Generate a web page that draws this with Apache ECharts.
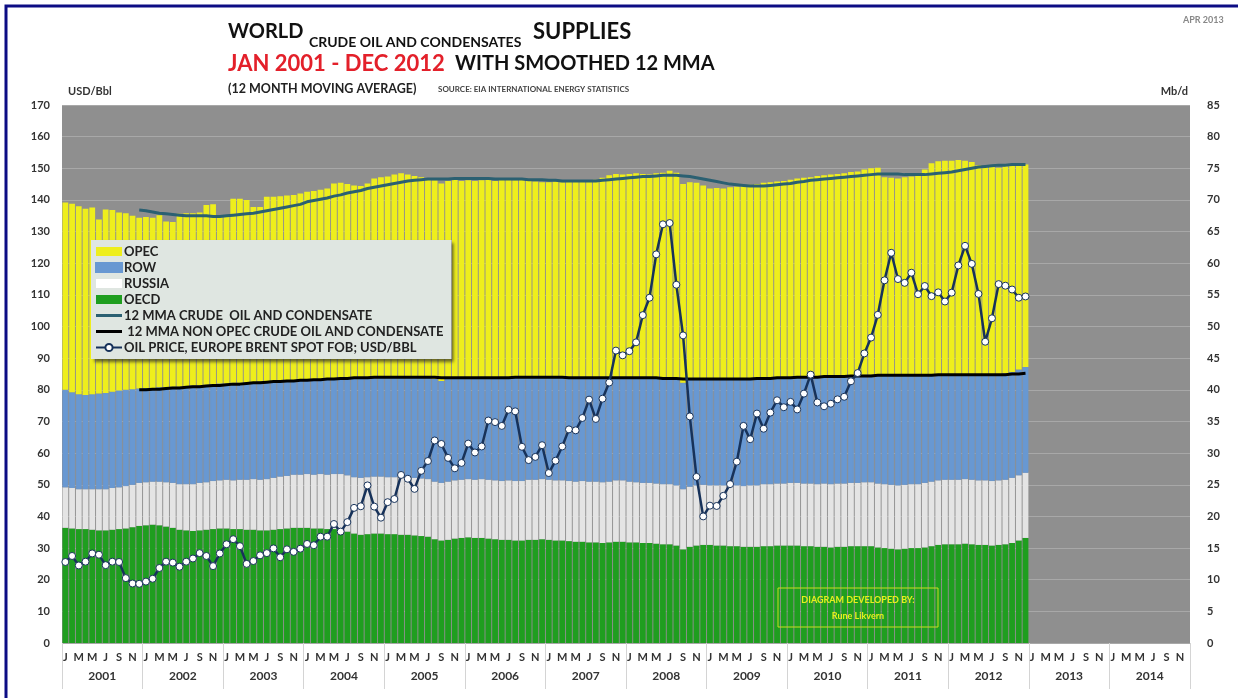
<!DOCTYPE html>
<html>
<head>
<meta charset="utf-8">
<script src="https://cdn.jsdelivr.net/npm/echarts@6/dist/echarts.min.js"></script>
<style>
  html, body { margin: 0; padding: 0; background: #fff; }
  #main { width: 1238px; height: 698px; }
</style>
</head>
<body>
<div id="main"></div>
<script>
// x axis: Jan 2001 - Dec 2014, data only to Dec 2012
var years = ['2001','2002','2003','2004','2005','2006','2007','2008','2009','2010','2011','2012','2013','2014'];
var monthLetters = ['J','F','M','A','M','J','J','A','S','O','N','D'];

// Mb/d, monthly, Jan 2001 - Dec 2012
var oecd = [
  18.2,18.1,18.0,18.0,17.9,17.8,17.8,17.9,18.0,18.1,18.3,18.5,
  18.6,18.7,18.6,18.4,18.2,17.9,17.8,17.7,17.8,17.9,18.0,18.1,
  18.1,18.0,18.0,17.9,17.9,17.8,17.8,17.9,18.0,18.1,18.2,18.2,
  18.2,18.1,18.1,18.0,18.0,17.9,17.6,17.3,17.1,17.2,17.3,17.3,
  17.2,17.2,17.1,17.1,17.0,16.9,16.8,16.4,16.2,16.3,16.5,16.6,
  16.7,16.6,16.6,16.5,16.4,16.3,16.3,16.2,16.2,16.3,16.3,16.4,
  16.3,16.2,16.2,16.1,16.0,16.0,15.9,15.9,15.8,15.9,16.0,16.0,
  15.9,15.9,15.8,15.8,15.7,15.6,15.6,15.4,14.8,15.2,15.4,15.5,
  15.5,15.4,15.4,15.3,15.3,15.2,15.2,15.2,15.3,15.3,15.4,15.4,
  15.4,15.4,15.3,15.3,15.2,15.2,15.1,15.2,15.2,15.3,15.3,15.3,
  15.3,15.1,15.0,14.9,14.8,14.9,15.0,15.0,15.1,15.3,15.5,15.6,
  15.6,15.6,15.7,15.6,15.5,15.5,15.4,15.5,15.6,15.8,16.2,16.6
];
var russia = [
  6.4,6.4,6.3,6.3,6.4,6.5,6.5,6.6,6.6,6.7,6.7,6.8,
  6.8,6.8,6.9,7.0,7.1,7.2,7.3,7.4,7.5,7.5,7.6,7.6,
  7.7,7.7,7.8,7.9,8.0,8.0,8.1,8.2,8.3,8.3,8.4,8.4,
  8.5,8.5,8.6,8.6,8.7,8.8,8.9,8.9,9.0,9.0,9.0,9.0,
  9.0,9.0,9.0,9.0,9.1,9.1,9.1,9.1,9.1,9.2,9.2,9.2,
  9.2,9.2,9.3,9.3,9.3,9.3,9.4,9.4,9.4,9.5,9.5,9.5,
  9.5,9.5,9.5,9.5,9.5,9.6,9.6,9.6,9.6,9.6,9.7,9.7,
  9.6,9.5,9.5,9.5,9.5,9.5,9.5,9.5,9.5,9.5,9.5,9.5,
  9.4,9.5,9.5,9.6,9.6,9.6,9.7,9.7,9.8,9.8,9.8,9.8,
  9.9,9.9,9.9,9.9,9.9,10.0,10.0,10.0,10.0,10.0,10.0,10.1,
  10.1,10.1,10.1,10.1,10.1,10.1,10.1,10.1,10.2,10.2,10.2,10.2,
  10.2,10.2,10.2,10.2,10.2,10.2,10.2,10.2,10.2,10.3,10.3,10.3
];
var row = [
  15.4,15.1,15.0,14.9,15.0,15.1,15.2,15.2,15.3,15.2,15.1,14.9,
  14.9,14.8,14.9,15.0,15.2,15.4,15.5,15.6,15.4,15.4,15.3,15.3,
  15.2,15.4,15.3,15.4,15.3,15.5,15.4,15.3,15.1,15.1,14.9,15.0,
  14.9,15.1,15.0,15.2,15.1,15.2,15.4,15.8,15.7,15.8,15.8,15.8,
  15.9,15.9,16.0,16.0,16.1,16.1,16.1,16.2,16.1,16.2,16.2,16.2,
  16.1,16.2,16.1,16.2,16.2,16.4,16.3,16.4,16.4,16.3,16.2,16.1,
  16.2,16.3,16.3,16.4,16.4,16.3,16.4,16.4,16.4,16.4,16.3,16.3,
  16.5,16.5,16.6,16.5,16.6,16.7,16.7,16.7,16.8,16.9,16.8,16.7,
  16.7,16.7,16.8,16.8,16.9,17.0,16.9,17.0,16.8,16.8,16.8,16.8,
  16.7,16.8,16.9,16.9,17.1,17.0,17.1,17.0,17.1,17.0,17.0,17.0,
  17.0,17.1,17.2,17.3,17.4,17.3,17.2,17.3,17.1,16.9,16.8,16.7,
  16.7,16.7,16.6,16.6,16.7,16.7,16.8,16.8,16.8,16.7,16.7,16.7
];
var opec = [
  29.6,29.8,29.7,29.4,29.5,27.5,29.0,28.7,28.1,27.9,27.4,27.0,
  27.0,26.9,27.2,26.2,26.0,27.3,27.3,27.2,27.3,28.4,28.4,26.6,
  26.6,29.1,29.1,28.8,27.7,27.6,29.2,29.1,29.2,29.2,29.3,29.4,
  29.7,29.7,29.9,30.0,30.8,30.8,30.6,30.3,30.4,30.6,31.3,31.5,
  31.6,31.9,32.1,31.9,31.6,31.5,31.4,31.4,31.2,31.3,31.3,31.0,
  31.1,31.0,31.1,31.2,31.1,31.2,31.3,31.1,31.2,30.9,30.9,30.8,
  30.8,30.9,30.8,30.9,31.0,31.1,31.2,31.3,31.7,32.0,32.1,32.0,
  32.1,32.3,32.2,32.2,32.4,32.5,32.8,32.7,31.4,31.2,31.0,30.6,
  30.2,30.3,30.1,30.3,30.3,30.5,30.6,30.6,30.8,30.9,30.9,31.0,
  31.2,31.3,31.4,31.5,31.6,31.7,31.8,31.9,31.9,32.1,32.2,32.4,
  32.6,32.8,31.3,31.2,31.1,31.3,31.4,31.4,32.4,33.4,33.6,33.7,
  33.7,33.8,33.7,33.6,33.1,32.9,32.8,32.6,32.7,32.6,32.3,32.0
];
// 12 month moving averages, Mb/d
var mmaTotal = [
  null,null,null,null,null,null,null,null,null,null,null,68.4,
  68.3,68.1,67.9,67.8,67.7,67.6,67.5,67.5,67.5,67.5,67.4,67.4,
  67.5,67.6,67.7,67.8,67.9,68.1,68.3,68.5,68.7,68.9,69.1,69.3,
  69.7,69.9,70.1,70.3,70.6,70.8,71.1,71.3,71.5,71.8,72.0,72.2,
  72.4,72.6,72.8,73.0,73.1,73.2,73.3,73.3,73.3,73.3,73.4,73.4,
  73.4,73.4,73.4,73.4,73.3,73.3,73.3,73.3,73.3,73.2,73.2,73.2,
  73.1,73.1,73.0,73.0,73.0,73.0,73.0,73.0,73.1,73.2,73.3,73.4,
  73.5,73.6,73.7,73.7,73.8,73.9,73.9,73.9,73.8,73.7,73.5,73.3,
  73.1,72.9,72.7,72.5,72.4,72.3,72.2,72.2,72.2,72.3,72.4,72.5,
  72.6,72.8,72.9,73.1,73.2,73.3,73.4,73.5,73.6,73.7,73.8,73.9,
  74.0,74.1,74.1,74.1,74.1,74.0,74.0,74.0,74.0,74.1,74.2,74.3,
  74.4,74.6,74.8,75.0,75.2,75.3,75.4,75.5,75.5,75.6,75.6,75.6
];
var mmaNonOpec = [
  null,null,null,null,null,null,null,null,null,null,null,40.0,
  40.0,40.1,40.1,40.2,40.3,40.3,40.4,40.5,40.5,40.6,40.7,40.7,
  40.8,40.9,40.9,41.0,41.1,41.1,41.2,41.3,41.3,41.4,41.4,41.5,
  41.5,41.6,41.6,41.7,41.7,41.8,41.8,41.9,41.9,41.9,42.0,42.0,
  42.0,42.0,42.0,42.0,42.0,42.0,42.0,42.0,41.9,41.9,41.9,41.9,
  41.9,41.9,41.9,41.9,41.9,41.9,41.9,42.0,42.0,42.0,42.0,42.0,
  42.0,42.0,42.0,41.9,41.9,41.9,41.9,41.9,41.9,41.9,41.9,41.9,
  41.9,41.9,41.9,41.9,41.9,41.8,41.8,41.8,41.7,41.7,41.7,41.7,
  41.7,41.7,41.7,41.7,41.7,41.7,41.7,41.8,41.8,41.8,41.9,41.9,
  41.9,42.0,42.0,42.0,42.0,42.1,42.1,42.1,42.1,42.2,42.2,42.2,
  42.2,42.3,42.3,42.3,42.3,42.3,42.3,42.3,42.3,42.3,42.4,42.4,
  42.4,42.4,42.4,42.4,42.4,42.4,42.4,42.4,42.4,42.5,42.5,42.6
];
// Brent spot FOB, USD/Bbl
var brent = [
  25.6,27.5,24.5,25.7,28.3,27.9,24.6,25.7,25.6,20.5,18.8,18.7,
  19.4,20.3,23.7,25.7,25.4,24.1,25.7,26.7,28.4,27.5,24.3,28.3,
  31.2,32.8,30.6,25.0,25.9,27.7,28.4,29.9,27.1,29.6,28.8,29.8,
  31.3,30.9,33.6,33.6,37.6,35.2,38.2,42.7,43.2,49.8,43.1,39.6,
  44.5,45.5,53.1,51.9,48.7,54.4,57.5,64.0,62.9,58.5,55.2,56.9,
  63.0,60.2,62.1,70.3,69.8,68.6,73.7,73.2,62.0,57.8,58.8,62.5,
  53.7,57.6,62.1,67.5,67.2,71.1,76.9,70.8,77.2,82.3,92.4,90.9,
  92.2,95.0,103.6,109.1,122.8,132.3,132.7,113.2,97.2,71.6,52.5,40.0,
  43.4,43.3,46.5,50.2,57.3,68.6,64.4,72.5,67.7,72.8,76.7,74.5,
  76.2,73.8,78.8,84.8,76.0,74.8,75.6,77.0,77.8,82.7,85.3,91.5,
  96.5,103.7,114.6,123.3,115.0,113.8,117.0,110.2,112.8,109.6,110.8,107.9,
  110.7,119.3,125.5,119.8,110.3,95.2,102.6,113.4,112.9,111.7,109.1,109.5
];

var months = [];
years.forEach(function (y) {
  for (var m = 0; m < 12; m++) months.push(y + '-' + (m + 1));
});

var FONT = 'Lato, "Open Sans", sans-serif';
var LINE_ICON = 'path://M0,0 L26,0 L26,3 L0,3 Z';
var myChart = echarts.init(document.getElementById('main'));

var option = {
  backgroundColor: '#ffffff',
  animation: false,
  grid: {
    left: 62, right: 48, top: 105, bottom: 55,
    show: true, backgroundColor: '#8f8f8f', borderWidth: 0
  },
  legend: {
    orient: 'vertical',
    left: 91, top: 240,
    itemWidth: 26, itemHeight: 9, itemGap: 3,
    padding: [5, 8, 5, 4],
    symbolKeepAspect: true,
    backgroundColor: '#dfe6e1',
    shadowColor: 'rgba(40,40,40,0.7)', shadowBlur: 3, shadowOffsetX: 3, shadowOffsetY: 3,
    selectedMode: false,
    textStyle: { fontFamily: FONT, fontWeight: 'bold', fontSize: 13, color: '#222', padding: [0, 0, 0, -3] },
    data: [
      { name: 'OPEC', icon: 'rect' },
      { name: 'ROW', icon: 'rect' },
      { name: 'RUSSIA', icon: 'rect', itemStyle: { color: '#ffffff' } },
      { name: 'OECD', icon: 'rect' },
      { name: '12 MMA CRUDE  OIL AND CONDENSATE', icon: LINE_ICON },
      { name: ' 12 MMA NON OPEC CRUDE OIL AND CONDENSATE', icon: LINE_ICON },
      { name: 'OIL PRICE, EUROPE BRENT SPOT FOB; USD/BBL' }
    ]
  },
  xAxis: [{
    type: 'category',
    data: months,
    boundaryGap: true,
    axisLine: { show: false },
    axisTick: { show: false },
    axisLabel: {
      interval: 1, margin: 9,
      fontFamily: FONT, fontWeight: 'bold', fontSize: 11, color: '#333',
      formatter: function (v) { return monthLetters[parseInt(v.split('-')[1], 10) - 1]; }
    },
    splitLine: { show: false }
  }, {
    type: 'category',
    data: years,
    position: 'bottom',
    boundaryGap: true,
    axisLine: { show: false },
    axisTick: { show: true, interval: 0, length: 46, lineStyle: { color: '#d4d4d4', width: 1 } },
    axisLabel: { interval: 0, margin: 27, fontFamily: FONT, fontWeight: 'bold', fontSize: 12, color: '#333' },
    splitLine: { show: false }
  }],
  yAxis: [{
    type: 'value',
    min: 0, max: 170, interval: 10,
    name: 'USD/Bbl',
    nameLocation: 'end', nameGap: 8,
    nameTextStyle: { fontFamily: FONT, fontWeight: 'bold', fontSize: 11, color: '#333', align: 'left', padding: [0, 0, 0, 6] },
    axisLine: { show: false }, axisTick: { show: false },
    axisLabel: { margin: 12, fontFamily: FONT, fontWeight: 'bold', fontSize: 11, color: '#333' },
    splitLine: { show: true, lineStyle: { color: '#a8a8a8', width: 1 } }
  }, {
    type: 'value',
    min: 0, max: 85, interval: 5,
    name: 'Mb/d',
    nameLocation: 'end', nameGap: 8,
    nameTextStyle: { fontFamily: FONT, fontWeight: 'bold', fontSize: 11, color: '#333', align: 'right', padding: [0, 2, 0, 0] },
    axisLine: { show: false }, axisTick: { show: false },
    axisLabel: { margin: 17, fontFamily: FONT, fontWeight: 'bold', fontSize: 11, color: '#333' },
    splitLine: { show: false }
  }],
  series: [{
    name: 'OECD', type: 'bar', stack: 'supply', yAxisIndex: 1,
    barCategoryGap: '14%',
    itemStyle: { color: '#1f9e1f' },
    data: oecd
  }, {
    name: 'RUSSIA', type: 'bar', stack: 'supply', yAxisIndex: 1,
    barCategoryGap: '14%',
    itemStyle: { color: '#e4e4e4' },
    data: russia
  }, {
    name: 'ROW', type: 'bar', stack: 'supply', yAxisIndex: 1,
    barCategoryGap: '14%',
    itemStyle: { color: '#6898d2', borderColor: '#6898d2', borderWidth: 0.8 },
    data: row
  }, {
    name: 'OPEC', type: 'bar', stack: 'supply', yAxisIndex: 1,
    barCategoryGap: '14%',
    itemStyle: { color: '#eeee1c' },
    data: opec
  }, {
    name: '12 MMA CRUDE  OIL AND CONDENSATE', type: 'line', yAxisIndex: 1,
    symbol: 'none',
    lineStyle: { color: '#2b6072', width: 3 },
    itemStyle: { color: '#2b6072' },
    data: mmaTotal, z: 5
  }, {
    name: ' 12 MMA NON OPEC CRUDE OIL AND CONDENSATE', type: 'line', yAxisIndex: 1,
    symbol: 'none',
    lineStyle: { color: '#000000', width: 3 },
    itemStyle: { color: '#000000' },
    data: mmaNonOpec, z: 5
  }, {
    name: 'OIL PRICE, EUROPE BRENT SPOT FOB; USD/BBL', type: 'line', yAxisIndex: 0,
    symbol: 'circle', symbolSize: 7, showAllSymbol: true,
    lineStyle: { color: '#17325a', width: 2.5 },
    itemStyle: { color: '#ffffff', borderColor: '#17325a', borderWidth: 1 },
    data: brent, z: 6
  }],
  graphic: [
    { type: 'rect', shape: { x: 6, y: 6, width: 1260, height: 720 }, style: { fill: 'none', stroke: '#0c0c84', lineWidth: 3 }, silent: true },
    { type: 'text', x: 1183, y: 20, style: { text: 'APR 2013', font: 'bold 9px ' + FONT, fill: '#888', verticalAlign: 'middle' } },
    { type: 'text', x: 228, y: 32, style: { text: 'WORLD', font: 'bold 20px ' + FONT, fill: '#111', verticalAlign: 'middle' } },
    { type: 'text', x: 309, y: 42, style: { text: 'CRUDE OIL AND CONDENSATES', font: 'bold 14px ' + FONT, fill: '#111', verticalAlign: 'middle' } },
    { type: 'text', x: 533, y: 32, style: { text: 'SUPPLIES', font: 'bold 22px ' + FONT, fill: '#111', verticalAlign: 'middle' } },
    { type: 'text', x: 228, y: 64, style: { text: 'JAN 2001 - DEC 2012', font: 'bold 22px ' + FONT, fill: '#e3202a', verticalAlign: 'middle' } },
    { type: 'text', x: 455, y: 64, style: { text: 'WITH SMOOTHED 12 MMA', font: 'bold 20px ' + FONT, fill: '#111', verticalAlign: 'middle' } },
    { type: 'text', x: 228, y: 89, style: { text: '(12 MONTH MOVING AVERAGE)', font: 'bold 12.5px ' + FONT, fill: '#222', verticalAlign: 'middle' } },
    { type: 'text', x: 438, y: 89, style: { text: 'SOURCE: EIA INTERNATIONAL ENERGY STATISTICS', font: 'bold 8px ' + FONT, fill: '#444', verticalAlign: 'middle' } },
    { type: 'rect', shape: { x: 778, y: 588, width: 160, height: 39 }, style: { fill: 'none', stroke: '#c9dc22', lineWidth: 1 }, z: 20 },
    { type: 'text', x: 858, y: 600, style: { text: 'DIAGRAM DEVELOPED BY:', font: 'bold 9px ' + FONT, fill: '#e6f01e', align: 'center', verticalAlign: 'middle' }, z: 20 },
    { type: 'text', x: 858, y: 616, style: { text: 'Rune Likvern', font: 'bold 9px ' + FONT, fill: '#e6f01e', align: 'center', verticalAlign: 'middle' }, z: 20 }
  ]
};
myChart.setOption(option);
</script>
</body>
</html>
